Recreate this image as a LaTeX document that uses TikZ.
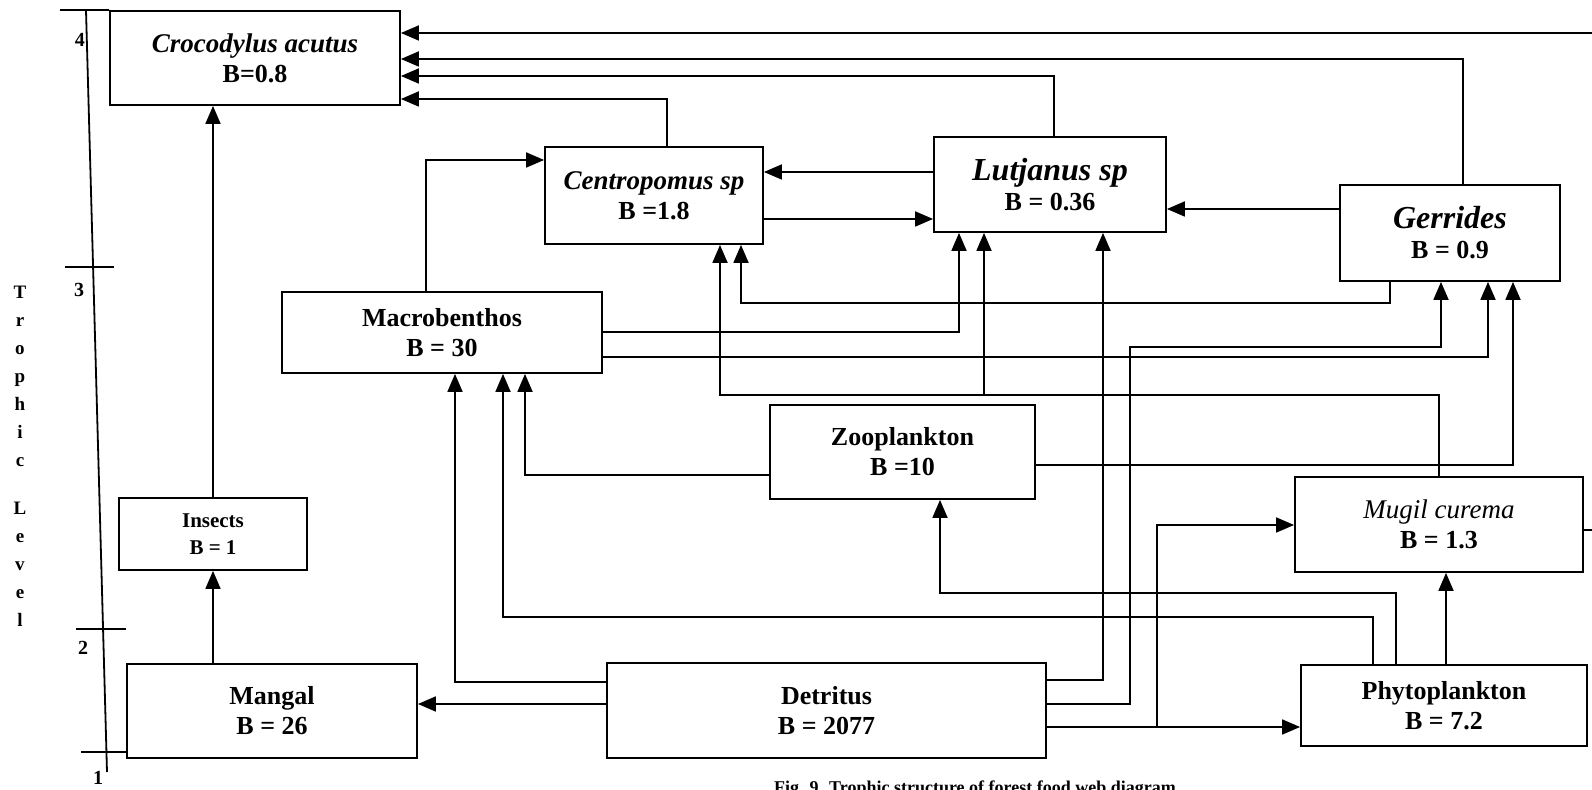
\documentclass[tikz,border=0pt]{standalone}
\usepackage{fontspec}
\setmainfont{Liberation Serif}
\usetikzlibrary{arrows.meta}
\tikzset{
  feed/.style={-{Triangle[length=9pt,width=7.5pt]}, line width=0.9pt},
  levelline/.style={line width=0.9pt},
  levelnum/.style={font=\bfseries\fontsize{10}{12}\selectfont, inner sep=0pt}
}
\newcommand{\bigsize}{\fontsize{16}{17}\selectfont\itshape}
\newcommand{\midsize}{\fontsize{13.5}{15}\selectfont\itshape}

\begin{document}
\begin{tikzpicture}[
  x=0.5pt, y=-0.5pt,
  taxon/.style={draw, line width=0.9pt, align=center, inner sep=0pt, font=\bfseries\fontsize{13}{15}\selectfont}
]
\useasboundingbox (0,0) rectangle (1592,790);

\node[taxon, minimum width=145pt, minimum height=47pt] at (255,58) (croc) {{\midsize Crocodylus acutus}\\B=0.8};
\node[taxon, minimum width=109pt, minimum height=48.5pt] at (654,195.5) (centro) {{\midsize Centropomus sp}\\B =1.8};
\node[taxon, minimum width=116pt, minimum height=47.5pt] at (1050,184.5) (lutj) {{\bigsize Lutjanus sp}\\B = 0.36};
\node[taxon, minimum width=110pt, minimum height=48pt] at (1450,233) (gerr) {{\bigsize Gerrides}\\B = 0.9};
\node[taxon, minimum width=160pt, minimum height=40.5pt] at (442,332.5) (macro) {Macrobenthos\\B = 30};
\node[taxon, minimum width=132.5pt, minimum height=47pt] at (902.5,452) (zoo) {Zooplankton\\B =10};
\node[taxon, minimum width=144pt, minimum height=47.5pt] at (1439,524.5) (mugil) {{\midsize\mdseries Mugil curema}\\B = 1.3};
\node[taxon, minimum width=94pt, minimum height=36pt, font=\bfseries\fontsize{10.5}{13.5}\selectfont] at (213,534) (insects) {Insects\\B = 1};
\node[taxon, minimum width=145pt, minimum height=47pt] at (272,711) (mangal) {Mangal\\B = 26};
\node[taxon, minimum width=219.5pt, minimum height=47.5pt] at (826.5,710.5) (detritus) {Detritus\\B = 2077};
\node[taxon, minimum width=143pt, minimum height=40.5pt] at (1444,705.5) (phyto) {Phytoplankton\\B = 7.2};

\draw[levelline] (86,10) -- (107,772);
\draw[levelline] (60,10) -- (croc.north west);
\draw[levelline] (65,267) -- (114,267);
\draw[levelline] (76,629) -- (126,629);
\draw[levelline] (81,752) -- (mangal.west |- 0,752);
\node[levelnum] at (80,40) (lev4) {4};
\node[levelnum] at (79,290) (lev3) {3};
\node[levelnum] at (83,648) (lev2) {2};
\node[levelnum] at (98,778) (lev1) {1};
\node[font=\bfseries\fontsize{9.5}{14}\selectfont, align=center, inner sep=0pt] at (20,456) (trophic) {T\\r\\o\\p\\h\\i\\c\\[10pt]L\\e\\v\\e\\l};

\draw[feed] (insects.north) -- (insects.north |- croc.south);
\draw[feed] (insects.south |- mangal.north) -- (insects.south);
\draw[feed] (detritus.west |- 0,704) -- (mangal.east |- 0,704);
\draw[feed] (detritus.west |- 0,682) -| (455,0 |- macro.south);
\draw[feed] (1373,0 |- phyto.north) |- (503,617) -- (503,0 |- macro.south);
\draw[feed] (zoo.west |- 0,475) -| (525,0 |- macro.south);
\draw[feed] (1396,0 |- phyto.north) |- (940,593) -- (940,0 |- zoo.south);
\draw[feed] (1446,0 |- phyto.north) -- (1446,0 |- mugil.south);
\draw[feed] (detritus.east |- 0,727) -- (phyto.west |- 0,727);
\draw[feed] (detritus.east |- 0,727) -| (1157,525) -- (mugil.west |- 0,525);
\draw[feed] (detritus.east |- 0,680) -| (1103,0 |- lutj.south);
\draw[feed] (detritus.east |- 0,704) -| (1130,347) -| (1441,0 |- gerr.south);
\draw[feed] (macro.east |- 0,332) -| (959,0 |- lutj.south);
\draw[feed] (macro.east |- 0,357) -| (1488,0 |- gerr.south);
\draw[feed] (zoo.east |- 0,465) -| (1513,0 |- gerr.south);
\draw[feed] (mugil.north) |- (720,395) -- (720,0 |- centro.south);
\draw[feed] (mugil.north) |- (984,395) -- (984,0 |- lutj.south);
\draw[feed] (1390,0 |- gerr.south) |- (741,303) -- (741,0 |- centro.south);
\draw[feed] (426,0 |- macro.north) |- (centro.west |- 0,160);
\draw[feed] (centro.east |- 0,219) -- (lutj.west |- 0,219);
\draw[feed] (lutj.west |- 0,172) -- (centro.east |- 0,172);
\draw[feed] (gerr.west |- 0,209) -- (lutj.east |- 0,209);
\draw[feed] (667,0 |- centro.north) |- (croc.east |- 0,99);
\draw[feed] (1054,0 |- lutj.north) |- (croc.east |- 0,76);
\draw[feed] (1463,0 |- gerr.north) |- (croc.east |- 0,59);
\draw[feed] (mugil.east |- 0,530) -- (1605,530) |- (croc.east |- 0,33);

\node[font=\bfseries\fontsize{9}{11}\selectfont, anchor=north, inner sep=0pt] at (975,780) (caption) {Fig. 9. Trophic structure of forest food web diagram};
\end{tikzpicture}
\end{document}
